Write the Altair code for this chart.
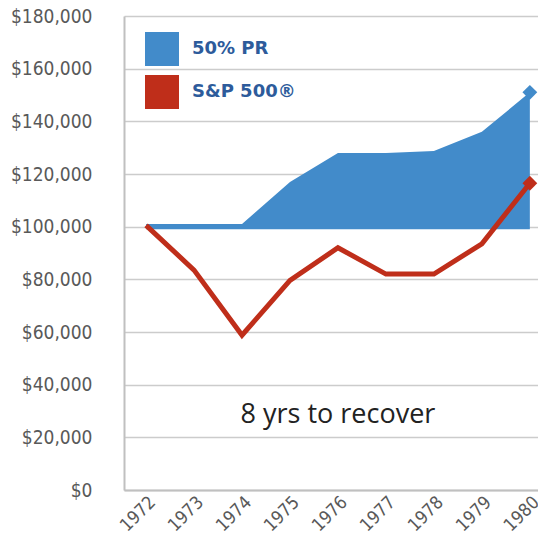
import altair as alt
import pandas as pd

years = [1972, 1973, 1974, 1975, 1976, 1977, 1978, 1979, 1980]
pr_values = [101000, 101000, 101000, 117000, 128000, 128000, 128700, 136000, 151000]
sp_values = [100500, 83500, 58800, 79600, 92000, 82000, 82000, 93500, 116500]
series_names = ["50% PR", "S&P 500\u00ae"]
colors = ["#428BCA", "#BF2E1A"]
baseline = 99000
note_text = "8 yrs to recover"
note_year = 1976
note_value = 28300

pr_df = pd.DataFrame({"year": years, "value": pr_values})
sp_df = pd.DataFrame({"year": years, "value": sp_values})
end_df = pd.DataFrame({
    "year": [years[-1], years[-1]],
    "value": [pr_values[-1], sp_values[-1]],
    "series": series_names,
})
note_df = pd.DataFrame({"year": [note_year], "value": [note_value], "label": [note_text]})

label_font = "DejaVu Sans Condensed"

x_enc = alt.X(
    "year:Q",
    scale=alt.Scale(domain=[1971.54, 1980.17], nice=False, zero=False),
    axis=alt.Axis(
        values=years, format="d", labelAngle=-45, title=None, grid=False,
        ticks=False, labelFont=label_font, labelFontSize=18, labelColor="#595959",
        domainColor="#C0C0C0", domainWidth=2, labelPadding=3,
    ),
)
y_scale = alt.Scale(domain=[0, 180000], nice=False)
y_axis = alt.Axis(
    values=list(range(0, 180001, 20000)), format="$,.0f", title=None,
    ticks=False, labelFont=label_font, labelFontSize=19, labelColor="#595959",
    gridColor="#CCCCCC", gridWidth=1.5, domainColor="#C0C0C0", domainWidth=2,
    labelPadding=32,
)

area = alt.Chart(pr_df).mark_area(color=colors[0], opacity=1, interpolate="linear").encode(
    x=x_enc,
    y=alt.Y("value:Q", scale=y_scale, axis=y_axis),
    y2=alt.datum(baseline),
)

line = alt.Chart(sp_df).mark_line(color=colors[1], strokeWidth=5, strokeJoin="miter").encode(
    x="year:Q",
    y="value:Q",
)

markers = alt.Chart(end_df).mark_point(shape="diamond", filled=True, size=220, opacity=1).encode(
    x="year:Q",
    y="value:Q",
    color=alt.Color(
        "series:N",
        scale=alt.Scale(domain=series_names, range=colors),
        legend=alt.Legend(
            title=None, orient="none", legendX=21, legendY=16,
            symbolType="square", symbolSize=1156, symbolStrokeWidth=0,
            labelFont="DejaVu Sans", labelFontWeight="bold", labelFontSize=18,
            labelColor="#2D5B9B", labelOffset=13, rowPadding=9, padding=0,
        ),
    ),
)

note = alt.Chart(note_df).mark_text(font="Open Sans", fontSize=27, color="#222222").encode(
    x="year:Q",
    y="value:Q",
    text="label:N",
)

chart = alt.layer(area, line, markers, note).properties(
    width=414, height=474,
    autosize=alt.AutoSizeParams(type="none"),
    padding={"top": 8, "left": 116, "right": 0, "bottom": 50},
).configure_view(stroke=None).configure_axisY(grid=True)

chart.save("out.html", embed_options={"renderer": "svg", "actions": False})
